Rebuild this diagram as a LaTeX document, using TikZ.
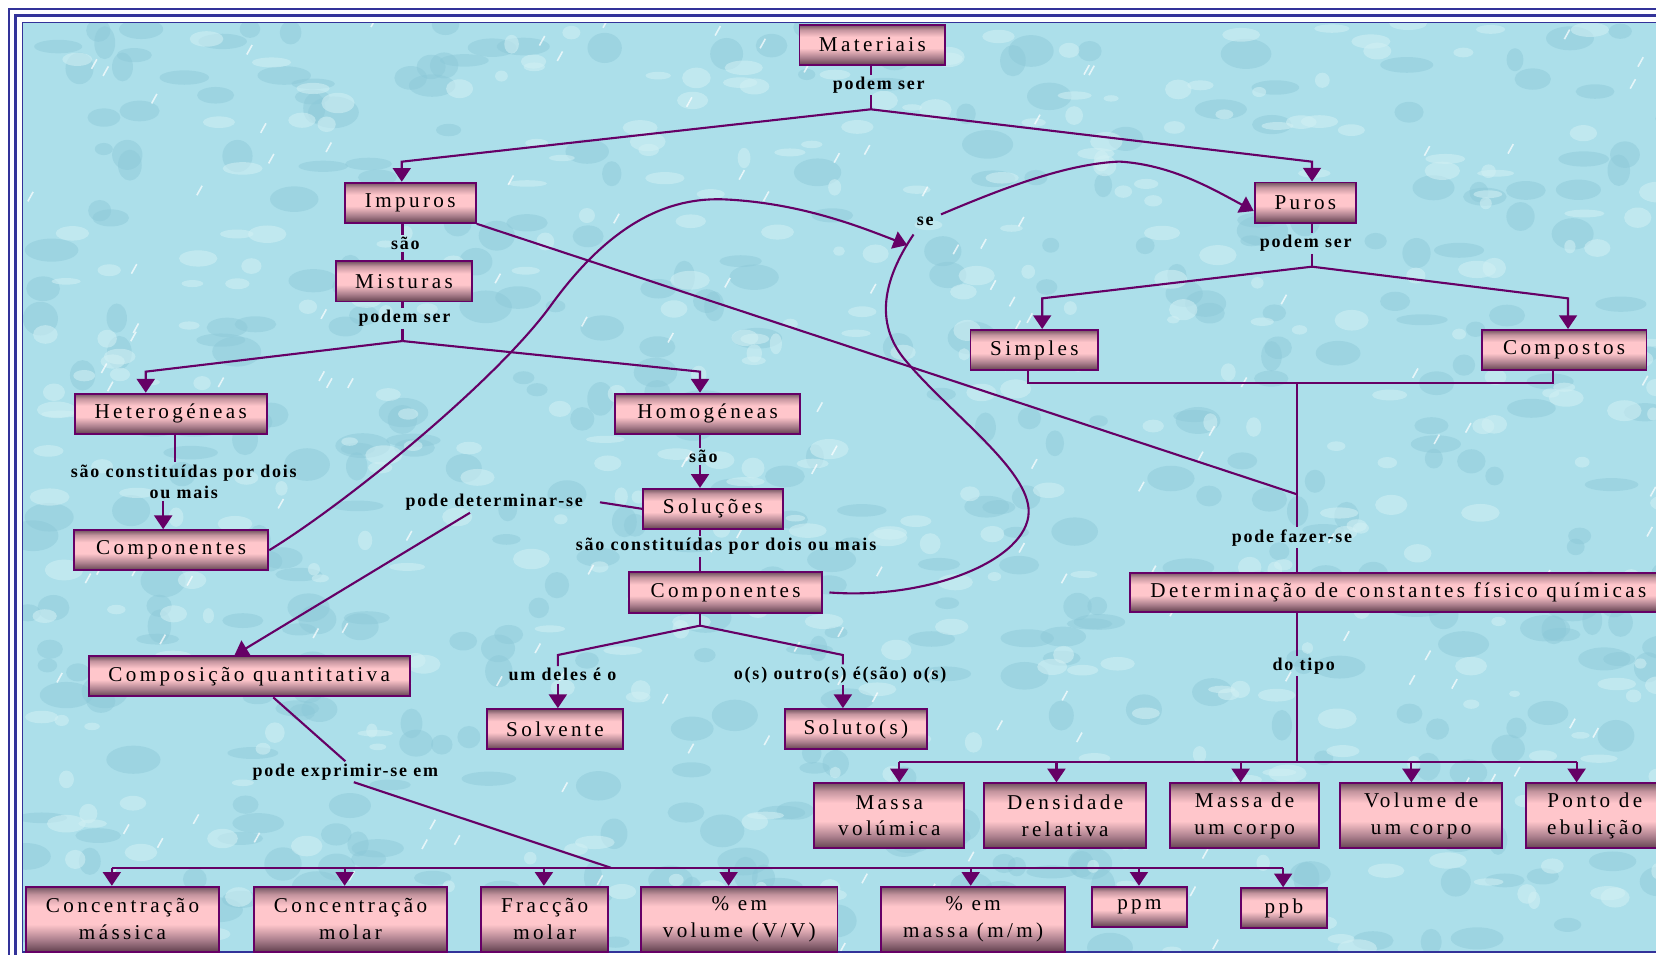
\documentclass[tikz,border=0pt]{standalone}
\usepackage{fontspec}
\setmainfont{Liberation Serif}
\newfontfamily\bxf[LetterSpace=16]{Liberation Serif}
\newfontfamily\lbf[LetterSpace=10]{Liberation Serif}
\usetikzlibrary{arrows.meta,calc}
\definecolor{bgc}{RGB}{172,223,234}
\definecolor{bgdark}{RGB}{140,200,216}
\definecolor{bglight}{RGB}{210,240,244}
\definecolor{framec}{RGB}{51,51,153}
\definecolor{pur}{RGB}{102,0,102}
\definecolor{bxtop}{RGB}{115,85,97}
\definecolor{bxmidt}{RGB}{196,148,158}
\definecolor{bxpink}{RGB}{255,198,203}
\definecolor{bxmidb}{RGB}{170,126,140}
\definecolor{bxbot}{RGB}{100,66,80}
\pgfdeclareverticalshading{boxsh}{100bp}{color(0bp)=(bxbot); color(25bp)=(bxbot); color(34bp)=(bxmidb); color(46bp)=(bxpink); color(60bp)=(bxpink); color(69bp)=(bxmidt); color(75bp)=(bxtop); color(100bp)=(bxtop)}
\tikzset{
  box/.style={draw=pur, line width=1.8pt, shade, shading=boxsh, inner sep=0pt, align=center, text=black, font=\bxf\fontsize{20}{25}\selectfont},
  lab/.style={inner sep=2pt, align=center, text=black, font=\lbf\bfseries\fontsize{17}{20}\selectfont},
  conn/.style={draw=pur, line width=2pt},
  arr/.style={conn, -{Triangle[length=13pt,width=17pt]}},
}
\begin{document}
\begin{tikzpicture}[x=1pt,y=-1pt]
\useasboundingbox (0,0) rectangle (1568,904);
\begin{scope}
\clip (0,0) rectangle (1568,904);
\fill[white] (0,0) rectangle (1568,904);
\fill[bgc] (21.2,21.2) rectangle (1600,901.5);
\begin{scope}
\clip (21.2,21.2) rectangle (1600,901.5);
\pgfmathsetseed{4242}
\foreach \i in {1,...,420} {
  \pgfmathsetmacro\px{22+rnd*1560}
  \pgfmathsetmacro\py{22+rnd*880}
  \pgfmathsetmacro\rx{8+rnd*18}
  \pgfmathsetmacro\ry{5+rnd*11}
  \fill[bgdark, opacity=0.45] (\px,\py) ellipse [x radius=\rx, y radius=\ry];
}
\foreach \i in {1,...,380} {
  \pgfmathsetmacro\px{22+rnd*1560}
  \pgfmathsetmacro\py{22+rnd*880}
  \pgfmathsetmacro\rx{5+rnd*14}
  \pgfmathsetmacro\ry{3+rnd*7}
  \fill[bglight, opacity=0.55] (\px,\py) ellipse [x radius=\rx, y radius=\ry];
}
\foreach \i in {1,...,160} {
  \pgfmathsetmacro\px{22+rnd*1560}
  \pgfmathsetmacro\py{22+rnd*880}
  \draw[white, opacity=0.7, line width=1.5pt] (\px,\py) -- ++(5,-9);
}
\end{scope}
\draw[framec, line width=1.5pt] (8.5,8.5) rectangle (1620,914);
\draw[framec, line width=3pt] (14.8,14.8) rectangle (1610,908);
\draw[framec, line width=1.3pt] (21.2,21.2) rectangle (1600,901.5);
\end{scope}

% ---------- boxes ----------
\node[box, minimum width=138pt, minimum height=38pt] (mat) at (826,42.5) {Materiais};
\node[box, minimum width=124pt, minimum height=38pt] (imp) at (388.5,192) {Impuros};
\node[box, minimum width=129pt, minimum height=38pt] (mis) at (382.5,266.5) {Misturas};
\node[box, minimum width=182pt, minimum height=38pt] (het) at (161.6,391.7) {Heterogéneas};
\node[box, minimum width=184pt, minimum height=38pt] (cpl) at (162,521) {Componentes};
\node[box, minimum width=175pt, minimum height=38pt] (hom) at (670,391.7) {Homogéneas};
\node[box, minimum width=132pt, minimum height=38pt] (sol) at (675,481.8) {Soluções};
\node[box, minimum width=183pt, minimum height=38pt] (cpm) at (687,561) {Componentes};
\node[box, minimum width=129pt, minimum height=38pt] (slv) at (525.5,690.4) {Solvente};
\node[box, minimum width=134pt, minimum height=38pt] (slt) at (810.4,690.4) {Soluto(s)};
\node[box, minimum width=304pt, minimum height=38pt] (cq) at (236,640.4) {Composição quantitativa};
\node[box, minimum width=96pt, minimum height=38pt] (puros) at (1236,191.8) {Puros};
\node[box, minimum width=156pt, minimum height=38pt] (cmp) at (1481,331.4) {Compostos};
\node[box, minimum width=121pt, minimum height=38pt] (smp) at (979.4,331.4) {Simples};
\node[box, minimum width=508pt, minimum height=37pt] (det) at (1324,560.7) {Determinação de constantes físico químicas};
\node[box, minimum width=142pt, minimum height=61.6pt] (mv) at (842,772.5) {Massa\\volúmica};
\node[box, minimum width=153pt, minimum height=61.6pt] (dr) at (1008.5,772.5) {Densidade\\relativa};
\node[box, minimum width=141.6pt, minimum height=61.6pt] (mc) at (1178.5,772.5) {Massa de\\um corpo};
\node[box, minimum width=153.8pt, minimum height=61.6pt] (vc) at (1345.6,772.5) {Volume de\\um corpo};
\node[box, minimum width=130pt, minimum height=61.6pt] (pe) at (1510,772.5) {Ponto de\\ebulição};
\node[box, minimum width=182.6pt, minimum height=61.4pt] (c1) at (116,870.3) {Concentração\\mássica};
\node[box, minimum width=183pt, minimum height=61.4pt] (c2) at (331.9,870.3) {Concentração\\molar};
\node[box, minimum width=119.7pt, minimum height=61.4pt] (c3) at (515.7,870.3) {Fracção\\molar};
\node[box, minimum width=186pt, minimum height=61.4pt] (c4) at (700,870.3) {\% em\\volume (V/V)};
\node[box, minimum width=174.3pt, minimum height=61.4pt] (c5) at (921.4,870.3) {\% em\\massa (m/m)};
\node[box, minimum width=90.4pt, minimum height=37.8pt] (ppm) at (1078.9,858.5) {ppm};
\node[box, minimum width=81.3pt, minimum height=38pt] (ppb) at (1215.7,860) {ppb};

% ---------- labels ----------
\node[lab] (lm) at (832,80.5) {podem ser};
\node[lab] (li) at (383.8,230.4) {são};
\node[lab] (lmis) at (383,301.4) {podem ser};
\node[lab] (lhet) at (174,456) {são constituídas por dois\\ou mais};
\node[lab] (lhom) at (666,432.4) {são};
\node[lab] (lsol) at (687.5,517.6) {são constituídas por dois ou mais};
\node[lab] (ldet) at (468,475.6) {pode determinar-se};
\node[lab] (lum) at (532.6,639) {um deles é o};
\node[lab] (lout) at (795.5,639) {o(s) outro(s) é(são) o(s)};
\node[lab] (lexp) at (327,730.7) {pode exprimir-se em};
\node[lab] (lse) at (876,210) {se};
\node[lab] (lpur) at (1236.3,230.4) {podem ser};
\node[lab] (lfaz) at (1223.4,509.1) {pode fazer-se};
\node[lab] (ltipo) at (1234.5,630.6) {do tipo};

% ---------- coordinates ----------
\coordinate (j1) at (824.5,103.5);
\coordinate (k1) at (380.4,153.1);
\coordinate (k2) at (1242.3,153.1);
\coordinate (j2) at (381.1,322.9);
\coordinate (k3) at (138,351.9);
\coordinate (k4) at (662.8,351.9);
\coordinate (h1) at (165.7,432);
\coordinate (h2) at (154.5,482);
\coordinate (j3) at (662.8,592.4);
\coordinate (k5) at (528.2,620.2);
\coordinate (k6) at (798.1,620.2);
\coordinate (j4) at (1242.3,252.5);
\coordinate (k7) at (986.8,282.5);
\coordinate (k8) at (1484.7,282.5);
\coordinate (s1) at (973.3,363);
\coordinate (s2) at (1470.7,363);
\coordinate (j5) at (1227.9,363);
\coordinate (j6) at (1227.9,468);
\coordinate (j7) at (1227.9,721.2);
\coordinate (rL) at (851.5,721.2);
\coordinate (rR) at (1492.8,721.2);
\coordinate (bb) at (578.3,821.6);
\coordinate (bL) at (105.9,821.6);
\coordinate (bR) at (1214.9,821.6);
\coordinate (seA) at (859,232);
\coordinate (seB) at (891,203);
\coordinate (seC) at (865,222);

% ---------- connectors ----------
\draw[conn] (j1 |- mat.south) -- (j1 |- lm.north);
\draw[conn] (j1 |- lm.south) -- (j1);
\draw[arr] (j1) -- (k1) -- (k1 |- imp.north);
\draw[arr] (j1) -- (k2) -- (k2 |- puros.north);

\draw[conn] (j2 |- imp.south) -- (j2 |- li.north);
\draw[conn] (j2 |- li.south) -- (j2 |- mis.north);
\draw[conn] (j2 |- mis.south) -- (j2 |- lmis.north);
\draw[conn] (j2 |- lmis.south) -- (j2);
\draw[arr] (j2) -- (k3) -- (k3 |- het.north);
\draw[arr] (j2) -- (k4) -- (k4 |- hom.north);

\draw[conn] (h1 |- het.south) -- (h1 |- lhet.north);
\draw[arr] (h2 |- lhet.south) -- (h2 |- cpl.north);

\draw[conn] (k4 |- hom.south) -- (k4 |- lhom.north);
\draw[arr] (k4 |- lhom.south) -- (k4 |- sol.north);
\draw[conn] (k4 |- sol.south) -- (k4 |- lsol.north);
\draw[conn] (k4 |- lsol.south) -- (k4 |- cpm.north);

\draw[conn] (j3 |- cpm.south) -- (j3);
\draw[conn] (j3) -- (k5) -- (k5 |- lum.north);
\draw[arr] (k5 |- lum.south) -- (k5 |- slv.north);
\draw[conn] (j3) -- (k6) -- (k6 |- lout.north);
\draw[arr] (k6 |- lout.south) -- (k6 |- slt.north);

\draw[conn] (sol.west) -- ([xshift=14pt]ldet.east);
\draw[arr] ([xshift=-23pt]ldet.south) -- ([xshift=-14pt]cq.north);

\draw[conn] ([xshift=22.7pt]cq.south) -- (lexp.north);
\draw[conn] ([xshift=8pt]lexp.south) -- (bb);
\draw[conn] (bL) -- (bR);
\foreach \xx/\nn in {105.9/c1, 326.3/c2, 515/c3, 689.9/c4, 919.1/c5, 1078.4/ppm, 1214.9/ppb} {
  \coordinate (tt) at (\xx,821.6);
  \draw[arr] (tt) -- (tt |- \nn.north);
}

\draw[conn] (j4 |- puros.south) -- (j4 |- lpur.north);
\draw[conn] (j4 |- lpur.south) -- (j4);
\draw[arr] (j4) -- (k7) -- (k7 |- smp.north);
\draw[arr] (j4) -- (k8) -- (k8 |- cmp.north);
\draw[conn] (s1 |- smp.south) -- (s1) -- (s2) -- (s2 |- cmp.south);
\draw[conn] (j5) -- (j5 |- lfaz.north);
\draw[conn] (j5 |- lfaz.south) -- (j5 |- det.north);
\draw[conn] (imp.south east) -- (j6);

\draw[conn] (j5 |- det.south) -- (j5 |- ltipo.north);
\draw[conn] (j5 |- ltipo.south) -- (j7);
\draw[conn] (rL) -- (rR);
\foreach \xx/\nn in {851.5/mv, 1000.3/dr, 1174.7/mc, 1336.4/vc, 1492.8/pe} {
  \coordinate (tt) at (\xx,721.2);
  \draw[arr] (tt) -- (tt |- \nn.north);
}

% curves
\draw[arr] (cpl.east) .. controls (330,475) and (470,360) .. (521,290) .. controls (575,215) and (630,185) .. (690,189) .. controls (760,193) and (815,215) .. (seA);
\draw[arr] (seB) .. controls (950,178) and (1010,155) .. (1060,153) .. controls (1110,156) and (1150,180) .. ([yshift=-8pt]puros.west);
\draw[conn] (seC) .. controls (838,262) and (826,305) .. (858,342) .. controls (900,392) and (975,445) .. (974,485) .. controls (973,530) and (880,568) .. ([xshift=6pt]cpm.east);
\end{tikzpicture}
\end{document}
